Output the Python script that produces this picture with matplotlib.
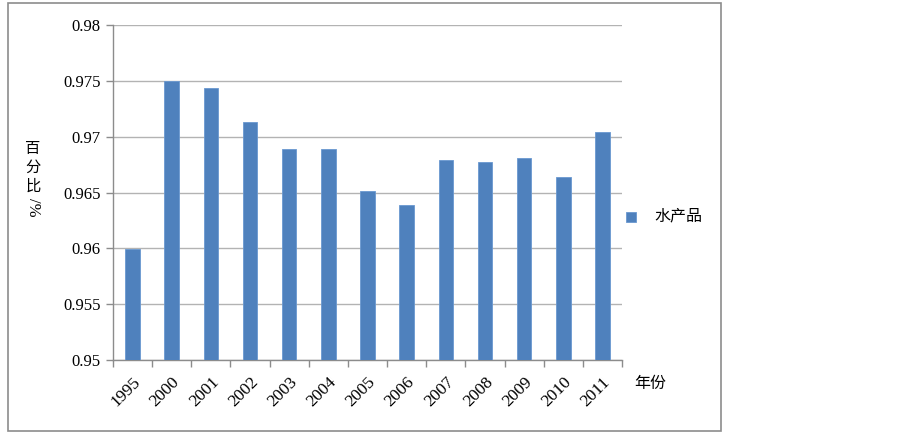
import matplotlib
matplotlib.use("Agg")
import matplotlib.pyplot as plt
from matplotlib.patches import Rectangle
from matplotlib import font_manager
import numpy as np

years = ["1995", "2000", "2001", "2002", "2003", "2004", "2005", "2006",
         "2007", "2008", "2009", "2010", "2011"]
values = [0.9599, 0.9750, 0.9744, 0.9713, 0.9689, 0.9689, 0.9651, 0.9639,
          0.9679, 0.9677, 0.9681, 0.9664, 0.9704]
yticks = [0.95, 0.955, 0.96, 0.965, 0.97, 0.975, 0.98]
ytick_labels = ["0.95", "0.955", "0.96", "0.965", "0.97", "0.975", "0.98"]
series_name = "水产品"

names = sorted({f.name for f in font_manager.fontManager.ttflist})
serif_name = "Liberation Serif" if "Liberation Serif" in names else "DejaVu Serif"
plt.rcParams["font.serif"] = [serif_name, "DejaVu Serif"]

W, H = 903, 436
fig = plt.figure(figsize=(W / 100, H / 100), dpi=100)
fig.patch.set_facecolor("white")

# outer frame
fig.patches.append(Rectangle((8 / W, 1 - 431 / H), (721 - 8) / W, (431 - 3) / H,
                             transform=fig.transFigure, fill=False,
                             edgecolor="#8c8c8c", linewidth=1.2))

ax = fig.add_axes([113 / W, 1 - 360 / H, (622 - 113) / W, (360 - 25) / H])
x = np.arange(len(years))
ax.bar(x, values, width=0.37, color="#4f81bd", edgecolor="#6a98d0",
       linewidth=0.6, zorder=3)
ax.set_xlim(-0.5, len(years) - 0.5)
ax.set_ylim(0.95, 0.98)
ax.set_yticks(yticks)
ax.set_yticklabels(ytick_labels, family=[serif_name], fontsize=12, color="black")
ax.yaxis.grid(True, color="#b3b3b3", linewidth=1.0, zorder=0)
ax.set_xticks(x)
ax.set_xticklabels(years, rotation=45, ha="right", va="top",
                   rotation_mode="anchor", family=[serif_name], fontsize=12.5,
                   color="black")
ax.tick_params(axis="x", length=0, pad=10)
ax.set_xticks(np.arange(-0.5, len(years), 1.0), minor=True)
ax.tick_params(axis="x", which="minor", length=5, color="#8c8c8c", width=1)
ax.tick_params(axis="y", length=5, color="#8c8c8c", width=1, pad=4)
for s in ["top", "right"]:
    ax.spines[s].set_visible(False)
for s in ["left", "bottom"]:
    ax.spines[s].set_color("#8c8c8c")
    ax.spines[s].set_linewidth(1.0)

cjk = ["Noto Sans CJK SC", "DejaVu Sans"]
# y label stacked
for ch, yy in zip(["百", "分", "比"], [148, 167, 186]):
    fig.text(33 / W, 1 - yy / H, ch, family=cjk, fontsize=11,
             ha="center", va="center", color="black")
fig.text(33 / W, 1 - 207 / H, "/%", family=[serif_name], fontsize=12,
         rotation=-90, ha="center", va="center", color="black")

# x label
fig.text(634 / W, 1 - 383 / H, "年份", family=cjk, fontsize=11.5,
         ha="left", va="center", color="black")

# legend
fig.patches.append(Rectangle((626 / W, 1 - 222 / H), 10 / W, 10 / H,
                             transform=fig.transFigure, facecolor="#4f81bd",
                             edgecolor="#6a98d0", linewidth=0.6))
fig.text(654 / W, 1 - 216 / H, series_name, family=cjk, fontsize=11.5,
         ha="left", va="center", color="black")

fig.savefig("out.png", dpi=100, facecolor="white")
